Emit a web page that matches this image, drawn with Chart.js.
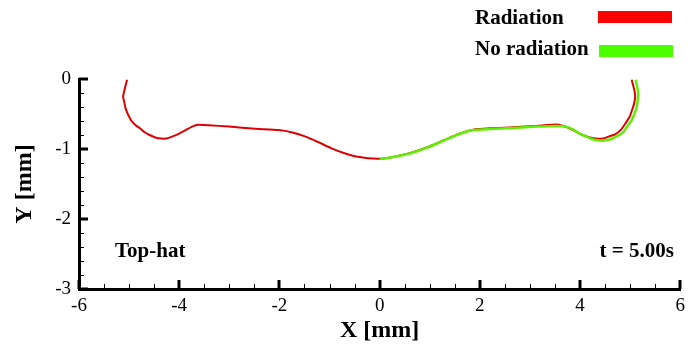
<!DOCTYPE html>
<html>
<head>
<meta charset="utf-8">
<script src="https://cdn.jsdelivr.net/npm/chart.js@4.4.1/dist/chart.umd.min.js"></script>
<style>
  html, body { margin: 0; padding: 0; background: #fff; }
  #chart { display: block; }
</style>
</head>
<body>
<canvas id="chart" width="691" height="347"></canvas>
<script>
// interface shape
const radX = [-5.04, -5.07, -5.10, -5.12, -5.10, -5.07, -5.02, -4.96, -4.87, -4.79, -4.69, -4.59, -4.46, -4.36, -4.26, -4.13, -4.00, -3.87, -3.74, -3.62, -3.41, -3.01, -2.48,
  -2.02, -1.76, -1.49, -1.23, -0.96, -0.70, -0.44, -0.04,
  0.22, 0.62, 0.95, 1.28, 1.58, 1.87, 2.20, 2.67, 3.13, 3.52, 3.66, 3.86, 4.05, 4.18, 4.32, 4.45, 4.58, 4.70, 4.81, 4.91, 4.99, 5.04, 5.08, 5.10, 5.09, 5.06, 5.03]
const radY = [-0.01, -0.09, -0.18, -0.25, -0.32, -0.42, -0.51, -0.59, -0.66, -0.70, -0.76, -0.80, -0.84, -0.85, -0.85, -0.82, -0.78, -0.73, -0.68, -0.655, -0.66, -0.68, -0.71,
  -0.73, -0.76, -0.82, -0.90, -0.99, -1.06, -1.11, -1.14,
  -1.12, -1.055, -0.975, -0.875, -0.785, -0.725, -0.705, -0.69, -0.67, -0.65, -0.67, -0.73, -0.80, -0.83, -0.85, -0.85, -0.82, -0.79, -0.73, -0.63, -0.54, -0.44, -0.35, -0.25, -0.18, -0.09, -0.01]

const noRadX = [0.0, 0.22, 0.62, 0.95, 1.28, 1.58, 1.87, 2.20, 2.67, 3.13, 3.52, 3.72, 3.86, 3.99, 4.12, 4.25, 4.38, 4.48, 4.61, 4.73, 4.85, 4.94, 5.03, 5.09, 5.13, 5.15, 5.16, 5.14, 5.11]
const noRadY = [-1.14, -1.12, -1.06, -0.98, -0.88, -0.79, -0.73, -0.715, -0.70, -0.68, -0.67, -0.68, -0.72, -0.78, -0.82, -0.86, -0.88, -0.88, -0.86, -0.82, -0.77, -0.68, -0.59, -0.49, -0.40, -0.30, -0.20, -0.11, -0.01]

const legendNames = ['Radiation', 'No radiation']
const legendColors = ['#ff0000', '#4cff00']

function toPoints(xs, ys) {
    return xs.map((x, i) => ({x: x, y: ys[i]}))
}

// inward ticks + legend + notes
const extras = {
    id: 'extras',
    afterDraw(chart) {
        const ctx = chart.ctx
        const x = chart.scales.x
        const y = chart.scales.y
        const bottom = chart.chartArea.bottom
        const left = chart.chartArea.left
        ctx.save()
        ctx.strokeStyle = '#000'
        for (let v = -6; v <= 6.001; v += 0.5) {
            const major = Math.abs(v % 2) < 0.001
            const px = Math.round(x.getPixelForValue(v))
            ctx.lineWidth = major ? 3 : 1
            ctx.beginPath()
            ctx.moveTo(px + (major ? 0 : 0.5), bottom)
            ctx.lineTo(px + (major ? 0 : 0.5), bottom - (major ? 9 : 5))
            ctx.stroke()
        }
        for (let v = 0; v >= -3.001; v -= 0.2) {
            const major = Math.abs(v - Math.round(v)) < 0.001
            const py = Math.round(y.getPixelForValue(v))
            ctx.lineWidth = major ? 3 : 1
            ctx.beginPath()
            ctx.moveTo(left, py + (major ? 0 : 0.5))
            ctx.lineTo(left + (major ? 9 : 5), py + (major ? 0 : 0.5))
            ctx.stroke()
        }

        ctx.fillStyle = '#000'
        ctx.font = 'bold 21px "Liberation Serif", serif'
        ctx.textBaseline = 'alphabetic'
        ctx.textAlign = 'left'
        ctx.fillText(legendNames[0], 475, 24)
        ctx.fillText(legendNames[1], 475, 55)
        ctx.fillText('Top-hat', 115, 257)
        ctx.textAlign = 'right'
        ctx.fillText('t = 5.00s', 674, 257)

        ctx.fillStyle = legendColors[0]
        ctx.fillRect(598, 11, 74, 12)
        ctx.fillStyle = legendColors[1]
        ctx.fillRect(599, 45, 74, 12)
        ctx.restore()
    }
}

const ctx = document.querySelector('#chart').getContext('2d')

const chart = new Chart(ctx, {
    type: 'scatter',
    data: {
        datasets: [
            {
                label: legendNames[0],
                data: toPoints(radX, radY),
                showLine: true,
                borderColor: '#dd0000',
                borderWidth: 2,
                pointRadius: 0,
                tension: 0.2,
                order: 2
            },
            {
                label: legendNames[1],
                data: toPoints(noRadX, noRadY),
                showLine: true,
                borderColor: '#5ef000',
                borderWidth: 2.5,
                pointRadius: 0,
                tension: 0.2,
                order: 1
            }
        ]
    },
    options: {
        responsive: false,
        animation: false,
        layout: { padding: { left: 0, top: 79, right: 6, bottom: 0 } },
        plugins: {
            legend: { display: false },
            tooltip: { enabled: false }
        },
        scales: {
            x: {
                type: 'linear',
                min: -6,
                max: 6,
                afterFit(scale) { scale.height = 58 },
                grid: { display: false, drawTicks: false },
                border: { display: true, color: '#000', width: 3 },
                ticks: {
                    stepSize: 2,
                    padding: 6,
                    color: '#000',
                    font: { family: '"Liberation Serif", serif', size: 19 }
                },
                title: {
                    display: true,
                    text: 'X [mm]',
                    color: '#000',
                    padding: { top: 0, bottom: 2 },
                    font: { family: '"Liberation Serif", serif', size: 24, weight: 'bold' }
                }
            },
            y: {
                type: 'linear',
                min: -3,
                max: 0,
                afterFit(scale) { scale.width = 79 },
                grid: { display: false, drawTicks: false },
                border: { display: true, color: '#000', width: 3 },
                ticks: {
                    stepSize: 1,
                    padding: 8,
                    color: '#000',
                    font: { family: '"Liberation Serif", serif', size: 19 }
                },
                title: {
                    display: true,
                    text: 'Y [mm]',
                    color: '#000',
                    padding: { top: 10, bottom: 0 },
                    font: { family: '"Liberation Serif", serif', size: 24, weight: 'bold' }
                }
            }
        }
    },
    plugins: [extras]
})
</script>
</body>
</html>
